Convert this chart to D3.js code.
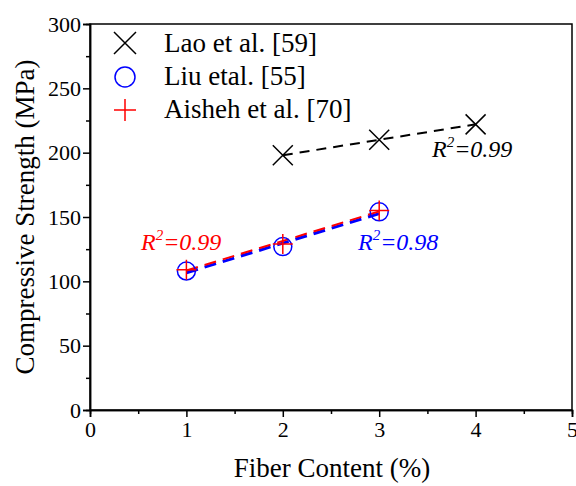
<!DOCTYPE html>
<html>
<head>
<meta charset="utf-8">
<script src="https://cdn.jsdelivr.net/npm/d3@7"></script>
<style>
  body { margin: 0; background: #fff; }
</style>
</head>
<body>
<svg id="chart" width="576" height="486"></svg>
<script>
// data
var fiberLao = [2, 3, 4];
var strengthLao = [198, 210, 222];
var fiberLiu = [1, 2, 3];
var strengthLiu = [108, 127, 154];
var fiberAisheh = [1, 2, 3];
var strengthAisheh = [109, 129, 155];
var xTicks = [0, 1, 2, 3, 4, 5];
var yTicks = [0, 50, 100, 150, 200, 250, 300];
var legendNames = ["Lao et al. [59]", "Liu etal. [55]", "Aisheh et al. [70]"];

var svg = d3.select("#chart"),
    pLeft = 90, pRight = 572, pTop = 24, pBottom = 410;

var x = d3.scaleLinear().domain([0, 5]).range([pLeft, pRight]);
var y = d3.scaleLinear().domain([0, 300]).range([pBottom, pTop]);

// frame
svg.append("rect")
  .attr("x", pLeft).attr("y", pTop)
  .attr("width", pRight - pLeft).attr("height", pBottom - pTop)
  .attr("fill", "none").attr("stroke", "#000").attr("stroke-width", 1.5);

// axes
svg.append("g")
  .attr("transform", "translate(0," + pBottom + ")")
  .call(d3.axisBottom(x).tickValues(xTicks).tickFormat(d3.format("d")).tickSize(7).tickPadding(4));
svg.append("g")
  .attr("transform", "translate(0," + pBottom + ")")
  .call(d3.axisBottom(x).tickValues(d3.range(0.5, 5, 1)).tickFormat("").tickSize(4));

svg.append("g")
  .attr("transform", "translate(" + pLeft + ",0)")
  .call(d3.axisLeft(y).tickValues(yTicks).tickSize(7).tickPadding(2));
svg.append("g")
  .attr("transform", "translate(" + pLeft + ",0)")
  .call(d3.axisLeft(y).tickValues(d3.range(25, 300, 50)).tickFormat("").tickSize(4));

svg.selectAll(".domain").attr("stroke", "#000").attr("stroke-width", 1.5);
svg.selectAll(".tick line").attr("stroke", "#000").attr("stroke-width", 1.5);
svg.selectAll(".tick text").attr("font-size", 22).attr("fill", "#000");

// axis titles
svg.append("text")
  .attr("x", 332).attr("y", 477)
  .attr("text-anchor", "middle").attr("font-size", 27)
  .text("Fiber Content (%)");
svg.append("text")
  .attr("transform", "translate(34,217) rotate(-90)")
  .attr("text-anchor", "middle").attr("font-size", 27)
  .text("Compressive Strength (MPa)");

// fit lines (endpoints of the linear fits)
function fit(xs, ys) {
  var n = xs.length, mx = d3.mean(xs), my = d3.mean(ys);
  var b = d3.sum(xs, function(v, i) { return (v - mx) * (ys[i] - my); }) /
          d3.sum(xs, function(v) { return (v - mx) * (v - mx); });
  var a = my - b * mx;
  return [[xs[0], a + b * xs[0]], [xs[n - 1], a + b * xs[n - 1]]];
}
var line = d3.line().x(function(d) { return x(d[0]); }).y(function(d) { return y(d[1]); });

svg.append("path").datum(fit(fiberLao, strengthLao))
  .attr("d", line).attr("fill", "none").attr("stroke", "#000")
  .attr("stroke-width", 2).attr("stroke-dasharray", "10,7");
svg.append("path").datum(fit(fiberLiu, strengthLiu))
  .attr("d", line).attr("fill", "none").attr("stroke", "#0000ff")
  .attr("stroke-width", 3).attr("stroke-dasharray", "12,7");
svg.append("path").datum(fit(fiberAisheh, strengthAisheh))
  .attr("d", line).attr("fill", "none").attr("stroke", "#ff0000")
  .attr("stroke-width", 2).attr("stroke-dasharray", "12,7")
  .attr("transform", "translate(0,-0.5)");

// markers
function cross(g, cx, cy, s, color) {
  g.append("path").attr("d", "M" + (cx - s) + "," + (cy - s) + "L" + (cx + s) + "," + (cy + s) +
    "M" + (cx - s) + "," + (cy + s) + "L" + (cx + s) + "," + (cy - s))
    .attr("stroke", color).attr("stroke-width", 1.5).attr("fill", "none");
}
function plus(g, cx, cy, s, color) {
  g.append("path").attr("d", "M" + (cx - s) + "," + cy + "L" + (cx + s) + "," + cy +
    "M" + cx + "," + (cy - s) + "L" + cx + "," + (cy + s))
    .attr("stroke", color).attr("stroke-width", 1.5).attr("fill", "none");
}
function circle(g, cx, cy, r, color) {
  g.append("circle").attr("cx", cx).attr("cy", cy).attr("r", r)
    .attr("fill", "none").attr("stroke", color).attr("stroke-width", 1.5);
}

var marks = svg.append("g");
fiberLao.forEach(function(f, i) { cross(marks, x(f), y(strengthLao[i]), 10, "#000"); });
fiberLiu.forEach(function(f, i) { circle(marks, x(f), y(strengthLiu[i]), 9, "#0000ff"); });
fiberAisheh.forEach(function(f, i) { plus(marks, x(f), y(strengthAisheh[i]), 10, "#ff0000"); });

// legend
var lg = svg.append("g");
cross(lg, 125, 43, 11, "#000");
circle(lg, 125, 77, 10, "#0000ff");
plus(lg, 125, 110, 11, "#ff0000");
legendNames.forEach(function(n, i) {
  lg.append("text").attr("x", 164).attr("y", 52 + i * 33)
    .attr("font-size", 27).attr("fill", "#000").text(n);
});

// R² labels
function r2(px, py, val, color) {
  var t = svg.append("text").attr("x", px).attr("y", py)
    .attr("font-size", 24).attr("font-style", "italic").attr("fill", color);
  t.append("tspan").text("R");
  t.append("tspan").attr("dy", -10).attr("font-size", 15).text("2");
  t.append("tspan").attr("dy", 10).text("=" + val);
}
r2(432, 157, "0.99", "#000");
r2(141, 250, "0.99", "#ff0000");
r2(358, 250, "0.98", "#0000ff");

svg.selectAll("text").style("font-family", "'Liberation Serif', serif");
</script>
</body>
</html>
